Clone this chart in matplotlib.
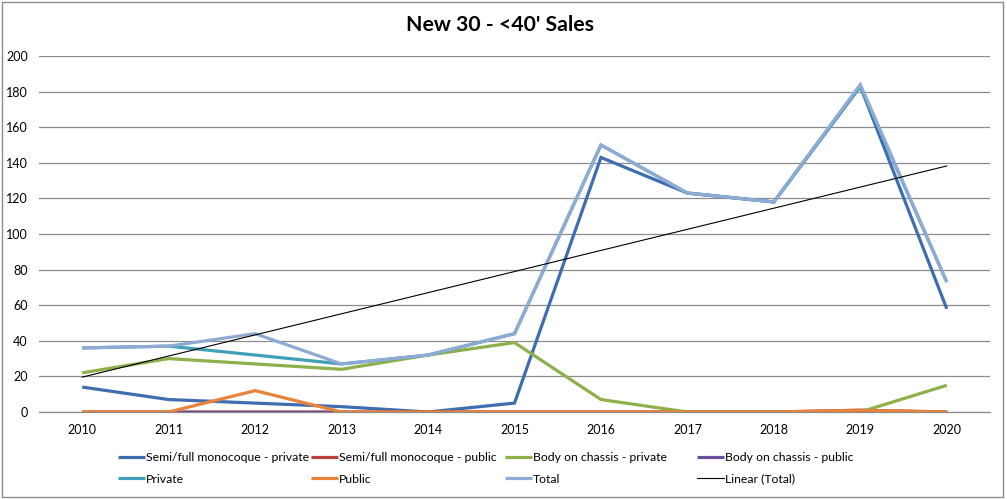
import numpy as np
import matplotlib.pyplot as plt

plt.rcParams['font.family'] = ['Lato', 'DejaVu Sans']

years = [2010, 2011, 2012, 2013, 2014, 2015, 2016, 2017, 2018, 2019, 2020]
semi_private = [14, 7, 5, 3, 0, 5, 143, 123, 118, 183, 58]
semi_public = [0, 0, 0, 0, 0, 0, 0, 0, 0, 1, 0]
body_private = [22, 30, 27, 24, 32, 39, 7, 0, 0, 0, 15]
body_public = [0, 0, 0, 0, 0, 0, 0, 0, 0, 0, 0]
private = [36, 37, 32, 27, 32, 44, 150, 123, 118, 183, 73]
public = [0, 0, 12, 0, 0, 0, 0, 0, 0, 1, 0]
total = [36, 37, 44, 27, 32, 44, 150, 123, 118, 184, 73]

series = [
    ("Semi/full monocoque - private", semi_private, "#3F6EB0"),
    ("Semi/full monocoque - public", semi_public, "#B8403D"),
    ("Body on chassis - private", body_private, "#8CB04A"),
    ("Body on chassis - public", body_public, "#6B4E9B"),
    ("Private", private, "#3FA0B8"),
    ("Public", public, "#E8833A"),
    ("Total", total, "#8FAAD4"),
]

fig = plt.figure(figsize=(10.07, 4.99), dpi=100)
ax = fig.add_axes([39 / 1007, 87 / 499, 951 / 1007, 356 / 499])

x = np.arange(len(years))
lines = []
for i, (name, vals, col) in enumerate(series):
    ln, = ax.plot(x, vals, color=col, lw=2.3, label=name, zorder=3 + i,
                  solid_joinstyle='miter', solid_capstyle='butt')
    lines.append(ln)

# linear trend of the total
coef = np.polyfit(x, total, 1)
ln, = ax.plot(x, np.polyval(coef, x), color='black', lw=0.8,
              label="Linear (Total)", zorder=12)
lines.append(ln)

ax.set_xlim(-0.5, len(years) - 0.5)
ax.set_ylim(0, 200)
ax.set_yticks(range(0, 201, 20))
ax.set_xticks(x)
ax.set_xticklabels([str(y) for y in years])
ax.tick_params(length=0, labelsize=9, colors='black')
ax.tick_params(axis='y', pad=8)
ax.tick_params(axis='x', pad=9)
ax.grid(axis='y', color='#8c8c8c', lw=0.9)
ax.set_axisbelow(True)
for s in ['top', 'right', 'left']:
    ax.spines[s].set_visible(False)
ax.spines['bottom'].set_color('#8c8c8c')
ax.spines['bottom'].set_linewidth(0.9)

fig.text(0.497, 0.95, "New 30 - <40' Sales", ha='center', va='center',
         fontsize=15.3, fontweight='bold')

# legend: four fixed-width columns, two rows, like the spreadsheet chart
col_x = [118, 311, 505, 697]
for c in range(4):
    hs = [lines[c], lines[c + 4]]
    leg = fig.legend(hs, [h.get_label() for h in hs], loc='upper left',
                     bbox_to_anchor=(col_x[c] / 1007, 1 - 452 / 499),
                     frameon=False, fontsize=8.8, handlelength=2.2,
                     handletextpad=0.08, labelspacing=0.88,
                     borderpad=0, borderaxespad=0)

# outer chart border
fig.patches.append(plt.Rectangle((0.002, 0.004), 0.994, 0.992,
                                 transform=fig.transFigure, fill=False,
                                 edgecolor='#8c8c8c', lw=1.0))

fig.savefig("out.png", dpi=100)
